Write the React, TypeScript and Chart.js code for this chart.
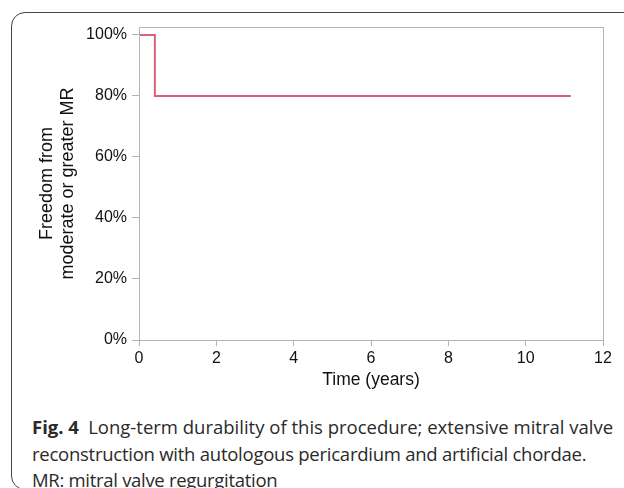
import React, { useEffect, useRef } from "react";
import { Chart, registerables } from "chart.js";

Chart.register(...registerables);

const eventTimes = [0, 0.41, 11.17];
const freedomPct = [100, 80, 80];
const xTickValues = [0, 2, 4, 6, 8, 10, 12];
const yTickValues = [0, 20, 40, 60, 80, 100];
const xTitle = "Time (years)";
const yTitle = ["Freedom from", "moderate or greater MR"];
const captionBold = "Fig. 4";
const captionLines = [
  "Long-term durability of this procedure; extensive mitral valve",
  "reconstruction with autologous pericardium and artificial chordae.",
  "MR: mitral valve regurgitation",
];

const AXIS_FONT = "'Liberation Sans', Arial, Helvetica, sans-serif";
const CAP_FONT = "'Open Sans', 'Noto Sans', sans-serif";

const framePlugin = {
  id: "frame",
  afterDraw(chart: any) {
    const { ctx, chartArea } = chart;
    ctx.save();
    ctx.strokeStyle = "#b5b5b5";
    ctx.lineWidth = 1;
    ctx.strokeRect(
      Math.round(chartArea.left) + 0.5,
      Math.round(chartArea.top) + 0.5,
      Math.round(chartArea.right - chartArea.left),
      Math.round(chartArea.bottom - chartArea.top)
    );
    ctx.restore();
  },
};

function KMChart() {
  const ref = useRef<HTMLCanvasElement | null>(null);
  useEffect(() => {
    if (!ref.current) return;
    const chart = new Chart(ref.current, {
      type: "line",
      data: {
        datasets: [
          {
            data: eventTimes.map((t, i) => ({ x: t, y: freedomPct[i] })),
            borderColor: "#d9627b",
            borderWidth: 2,
            pointRadius: 0,
            stepped: "before",
            fill: false,
          },
        ],
      },
      options: {
        animation: false,
        responsive: false,
        maintainAspectRatio: false,
        layout: { padding: { top: 27, right: 21, left: 0, bottom: 0 } },
        plugins: { legend: { display: false }, tooltip: { enabled: false } },
        scales: {
          x: {
            type: "linear",
            min: 0,
            max: 12,
            afterBuildTicks: (s: any) => {
              s.ticks = xTickValues.map((v) => ({ value: v }));
            },
            afterFit: (s: any) => {
              s.height = 60;
            },
            grid: { drawOnChartArea: false, drawTicks: true, tickLength: 6, color: "#b5b5b5" },
            border: { display: true, color: "#b5b5b5" },
            ticks: {
              color: "#111",
              font: { family: AXIS_FONT, size: 16 },
              padding: 3,
              maxRotation: 0,
            },
            title: {
              display: true,
              text: xTitle,
              color: "#111",
              font: { family: AXIS_FONT, size: 17.5 },
              padding: { top: 0, bottom: 9 },
            },
          },
          y: {
            type: "linear",
            min: 0,
            max: 102.6,
            afterBuildTicks: (s: any) => {
              s.ticks = yTickValues.map((v) => ({ value: v }));
            },
            afterFit: (s: any) => {
              s.width = 139;
            },
            grid: { drawOnChartArea: false, drawTicks: true, tickLength: 7, color: "#b5b5b5" },
            border: { display: true, color: "#b5b5b5" },
            ticks: {
              color: "#111",
              font: { family: AXIS_FONT, size: 16 },
              padding: 5,
              callback: (v: any) => v + "%",
            },
            title: {
              display: true,
              text: yTitle,
              color: "#111",
              font: { family: AXIS_FONT, size: 18, lineHeight: 1.18 },
              padding: { top: 36, bottom: 0 },
            },
          },
        },
      },
      plugins: [framePlugin],
    });
    return () => chart.destroy();
  }, []);
  return <canvas ref={ref} width={624} height={400} style={{ position: "absolute", left: 0, top: 0 }} />;
}

export default function App() {
  return (
    <div style={{ position: "absolute", left: 0, top: 0, width: 624, height: 488, background: "#fff", overflow: "hidden" }}>
      <div
        style={{
          position: "absolute",
          left: 11,
          top: 12,
          width: 640,
          height: 478,
          border: "1.5px solid #444",
          borderRadius: 14,
          boxSizing: "border-box",
        }}
      />
      <KMChart />
      <div
        style={{
          position: "absolute",
          left: 32,
          top: 414,
          fontFamily: CAP_FONT,
          fontSize: 18.5,
          lineHeight: "26.5px",
          color: "#2a2a2a",
          whiteSpace: "nowrap",
        }}
      >
        <div>
          <b style={{ fontWeight: 700 }}>{captionBold}</b>
          <span>{"\u2002" + captionLines[0]}</span>
        </div>
        <div style={{ letterSpacing: "-0.25px" }}>{captionLines[1]}</div>
        <div style={{ letterSpacing: "-0.3px" }}>{captionLines[2]}</div>
      </div>
    </div>
  );
}
